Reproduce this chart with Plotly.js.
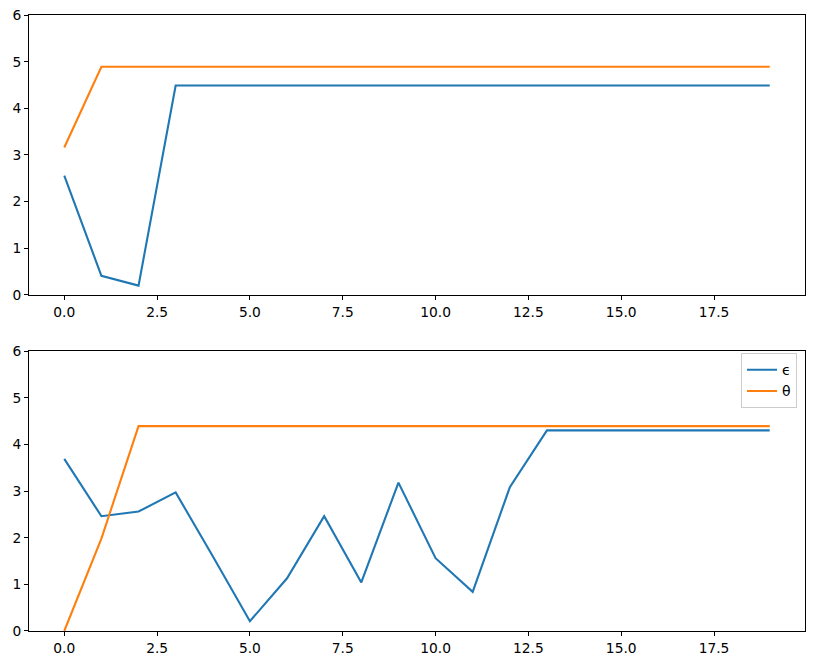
<!DOCTYPE html>
<html><head><meta charset="utf-8">
<script src="https://cdn.plot.ly/plotly-3.0.1.min.js"></script>
<style>html,body{margin:0;padding:0;background:#fff}</style>
</head><body>
<div id="chart" style="width:813px;height:665px"></div>
<script>
const steps = [0,1,2,3,4,5,6,7,8,9,10,11,12,13,14,15,16,17,18,19];
const topEpsilon = [2.56,0.41,0.2,4.49,4.49,4.49,4.49,4.49,4.49,4.49,4.49,4.49,4.49,4.49,4.49,4.49,4.49,4.49,4.49,4.49];
const topTheta = [3.16,4.89,4.89,4.89,4.89,4.89,4.89,4.89,4.89,4.89,4.89,4.89,4.89,4.89,4.89,4.89,4.89,4.89,4.89,4.89];
const botEpsilon = [3.69,2.46,2.56,2.97,1.6,0.21,1.13,2.46,1.04,3.18,1.56,0.84,3.08,4.3,4.3,4.3,4.3,4.3,4.3,4.3];
const botTheta = [0,1.98,4.39,4.39,4.39,4.39,4.39,4.39,4.39,4.39,4.39,4.39,4.39,4.39,4.39,4.39,4.39,4.39,4.39,4.39];
const xTicks = [0,2.5,5,7.5,10,12.5,15,17.5];
const yTicks = [0,1,2,3,4,5,6];
const names = ['ϵ','θ'];
const blue = '#1f77b4', orange = '#ff7f0e';

const traces = [
  {x: steps, y: topEpsilon, xaxis:'x', yaxis:'y', mode:'lines', line:{color:blue,width:2.1}, showlegend:false, name:names[0]},
  {x: steps, y: topTheta, xaxis:'x', yaxis:'y', mode:'lines', line:{color:orange,width:2.1}, showlegend:false, name:names[1]},
  {x: steps, y: botEpsilon, xaxis:'x2', yaxis:'y2', mode:'lines', line:{color:blue,width:2.1}, name:names[0]},
  {x: steps, y: botTheta, xaxis:'x2', yaxis:'y2', mode:'lines', line:{color:orange,width:2.1}, name:names[1]}
];
const font = {family:'DejaVu Sans', size:13.8, color:'#000'};
function xa(anchor){return {anchor:anchor, range:[-0.95,19.95], tickvals:xTicks, ticktext:xTicks.map(v=>v.toFixed(1)),
  showgrid:false, zeroline:false, showline:true, mirror:true, linecolor:'#000', linewidth:1,
  ticks:'outside', ticklen:4, tickwidth:1, tickcolor:'#000', tickfont:font};}
function ya(anchor, dom){return {anchor:anchor, domain:dom, range:[0,6], tickvals:yTicks,
  showgrid:false, zeroline:false, showline:true, mirror:true, linecolor:'#000', linewidth:1,
  ticks:'outside', ticklen:4, tickwidth:1, tickcolor:'#000', tickfont:font};}
const layout = {
  width:813, height:665, margin:{l:29,r:8,t:15,b:34},
  paper_bgcolor:'#fff', plot_bgcolor:'#fff', font:font,
  xaxis: xa('y'), yaxis: ya('x',[0.5455,1]),
  xaxis2: xa('y2'), yaxis2: ya('x2',[0,0.4545]),
  legend:{x:0.9897, xanchor:'right', y:0.451, yanchor:'top', bgcolor:'rgba(255,255,255,0.8)',
    bordercolor:'#ccc', borderwidth:1, font:{family:'DejaVu Sans', size:14, color:'#000'}},
  showlegend:true
};
Plotly.newPlot('chart', traces, layout, {displayModeBar:false, staticPlot:true});
</script>
</body></html>
